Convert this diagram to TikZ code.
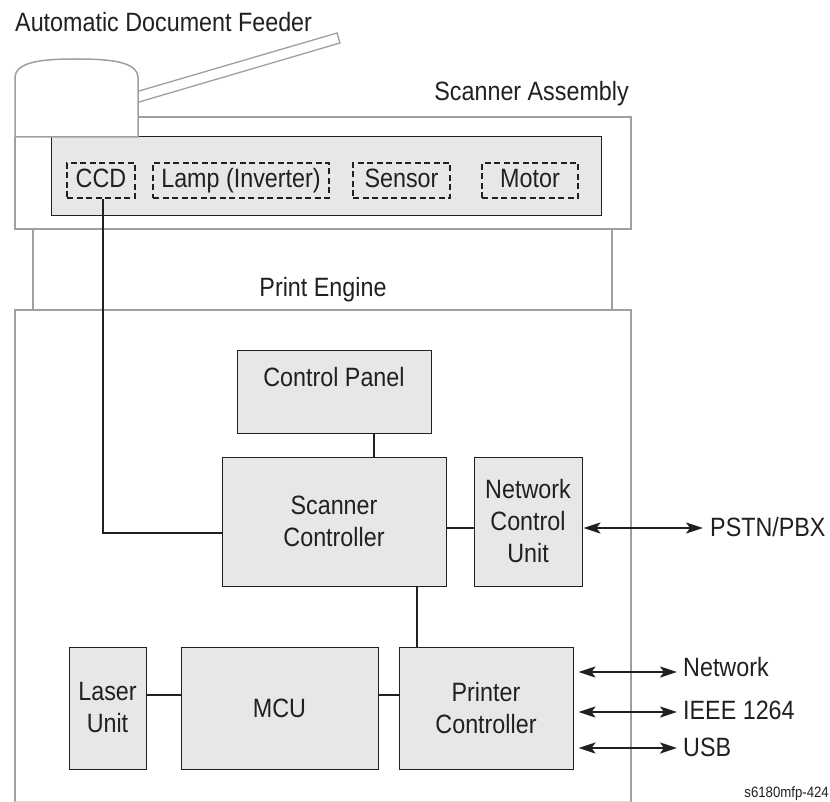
\documentclass[tikz,border=0pt]{standalone}
\usepackage{fontspec}
\setmainfont{Liberation Sans}[FakeStretch=0.88]
\usetikzlibrary{arrows.meta}
\definecolor{ink}{HTML}{231F20}
\definecolor{frame}{HTML}{9D9FA2}
\definecolor{boxfill}{HTML}{E6E7E8}
\begin{document}
\begin{tikzpicture}[x=1pt,y=-1pt,
  every node/.style={text=ink, font=\fontsize{26.5}{32}\selectfont, inner sep=0pt},
  outline/.style={draw=frame, line width=1.5pt},
  unitbox/.style={draw=ink, line width=1pt, fill=boxfill, align=center, inner sep=0pt},
  dashbox/.style={draw=ink, line width=1.6pt, dash pattern=on 6pt off 3.5pt, inner sep=0pt,
    minimum height=35pt, text height=19.5pt, text depth=5.5pt},
  wire/.style={draw=ink, line width=2.2pt},
  duplex/.style={wire, {Stealth[length=17pt,width=11pt,inset=4pt]}-{Stealth[length=17pt,width=11pt,inset=4pt]}}
]
\useasboundingbox (0,0) rectangle (830,802);

% Scanner assembly outline
\draw[outline] (138,117) -- (631,117) -- (631,229) -- (15,229) -- (15,137);
\node[draw=ink, line width=1pt, fill=boxfill, minimum width=550pt, minimum height=79pt] (scan) at (326,176.5) {};
% ADF dome and arm
\draw[outline, fill=white] (15,137) -- (15,78) .. controls (15,61) and (45,59) .. (76.5,59)
  .. controls (108,59) and (138,61) .. (138,78) -- (138,137) -- cycle;
\draw[outline, line width=1.3pt, fill=white] (139,91) -- (337,33) -- (340,43) -- (139,102);

% Link between scanner and print engine
\draw[outline] (33,229) -- (33,310) (612,229) -- (612,310);
% Print engine outline
\draw[outline] (15,802) -- (15,310) -- (631,310) -- (631,802);
\draw[draw=frame!35, line width=1pt] (15,801) -- (631,801);

% Labels
\node[anchor=base west] (adf) at (15,32) {Automatic Document Feeder};
\node[anchor=base east] (sa) at (629,101) {Scanner Assembly};
\node[anchor=base] (pe) at (323,297) {Print Engine};
\node[anchor=base east, font=\fontsize{15}{17}\selectfont] (code) at (829,797) {s6180mfp-424};

% Dashed parts
\node[dashbox, minimum width=68pt] (CCD) at (101,180.5) {CCD};
\node[dashbox, minimum width=176pt] (lamp) at (241,180.5) {Lamp (Inverter)};
\node[dashbox, minimum width=97pt] (sensor) at (401.5,180.5) {Sensor};
\node[dashbox, minimum width=96pt] (motor) at (530,180.5) {Motor};

% Units
\node[unitbox, minimum width=194pt, minimum height=83pt] (CP) at (334,391.5) {};
\node (CPt) at (334,377) {Control Panel};
\node[unitbox, minimum width=224pt, minimum height=129pt] (SC) at (334,521.5) {Scanner\\Controller};
\node[unitbox, minimum width=108pt, minimum height=129pt] (NCU) at (528,521.5) {Network\\Control\\Unit};
\node[unitbox, minimum width=77pt, minimum height=122pt] (LU) at (107.5,708) {Laser\\Unit};
\node[unitbox, minimum width=197pt, minimum height=122pt] (MCU) at (279.5,708) {MCU};
\node[unitbox, minimum width=174pt, minimum height=122pt] (PC) at (486,708) {Printer\\Controller};

% External labels
\node[anchor=base west] (pstn) at (710,536) {PSTN/PBX};
\node[anchor=base west] (net) at (683,676) {Network};
\node[anchor=base west] (ieee) at (683,719) {IEEE 1264};
\node[anchor=base west] (usb) at (683,756) {USB};
\coordinate (pstnEnd) at (703,528);
\coordinate (netEnd) at (677,672);
\coordinate (ieeeEnd) at (677,712);
\coordinate (usbEnd) at (677,748);

% Wires
\draw[wire] ([xshift=2pt]CCD.south) |- ([yshift=-11.5pt]SC.west);
\draw[wire] ([xshift=40pt]CP.south) -- ([xshift=40pt]CP.south |- SC.north);
\draw[wire] ([yshift=-6.5pt]SC.east) -- ([yshift=-6.5pt]NCU.west);
\draw[wire] ([xshift=83pt]SC.south) -- ([xshift=83pt]SC.south |- PC.north);
\draw[wire] ([yshift=13pt]LU.east) -- ([yshift=13pt]LU.east -| MCU.west);
\draw[wire] ([yshift=13pt]MCU.east) -- ([yshift=13pt]MCU.east -| PC.west);

% Bidirectional arrows
\draw[duplex] ([xshift=1pt]NCU.east |- pstnEnd) -- (pstnEnd);
\draw[duplex] ([xshift=5pt]PC.east |- netEnd) -- (netEnd);
\draw[duplex] ([xshift=5pt]PC.east |- ieeeEnd) -- (ieeeEnd);
\draw[duplex] ([xshift=5pt]PC.east |- usbEnd) -- (usbEnd);
\end{tikzpicture}
\end{document}
